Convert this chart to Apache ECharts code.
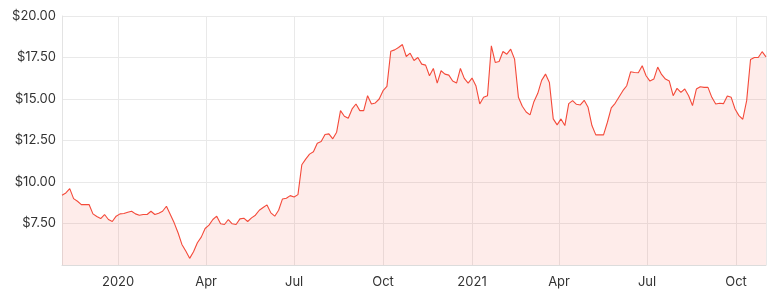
<!DOCTYPE html>
<html>
<head>
<meta charset="utf-8">
<script src="https://cdn.jsdelivr.net/npm/echarts@6/dist/echarts.min.js"></script>
<style>
html,body{margin:0;padding:0;background:#fff;}
#chart{width:776px;height:301px;}
</style>
</head>
<body>
<div id="chart"></div>
<script>
// Series sampled every 4 calendar days starting 2019-11-04
var START_DATE = [2019, 10, 4];
var STEP_DAYS = 4;
var prices = [
  9.20, 9.34, 9.60, 9.00, 8.84, 8.64, 8.64, 8.64, 8.08, 7.92, 7.80, 8.04, 7.74, 7.62, 7.94, 8.08, 8.10, 8.18, 8.24, 8.08, 8.00, 8.04, 8.04,
  8.24, 8.04, 8.12, 8.24, 8.54, 8.04, 7.54, 6.94, 6.24, 5.84, 5.40, 5.80, 6.34, 6.68, 7.20, 7.40, 7.74, 7.94, 7.48, 7.44, 7.74, 7.48, 7.44,
  7.78, 7.82, 7.62, 7.84, 8.00, 8.30, 8.46, 8.62, 8.14, 7.94, 8.30, 8.98, 9.02, 9.18, 9.10, 9.24, 11.04, 11.38, 11.68, 11.82, 12.34, 12.44, 12.86,
  12.90, 12.60, 13.00, 14.30, 13.96, 13.84, 14.40, 14.70, 14.30, 14.30, 15.20, 14.70, 14.76, 15.00, 15.50, 15.76, 17.88, 17.96, 18.10, 18.28, 17.56, 17.76,
  17.32, 17.50, 17.10, 17.04, 16.40, 16.84, 15.96, 16.70, 16.50, 16.44, 16.08, 15.96, 16.84, 16.24, 15.96, 16.26, 15.80, 14.70, 15.10, 15.20, 18.20, 17.20, 17.26,
  17.86, 17.70, 18.00, 17.40, 15.10, 14.56, 14.22, 14.04, 14.84, 15.34, 16.12, 16.50, 16.00, 13.80, 13.44, 13.80, 13.40, 14.72, 14.90, 14.68, 14.64, 14.92, 14.50,
  13.40, 12.84, 12.84, 12.84, 13.60, 14.46, 14.74, 15.12, 15.50, 15.80, 16.64, 16.60, 16.58, 17.00, 16.40, 16.08, 16.20, 16.92, 16.48, 16.20, 16.08, 15.20, 15.64,
  15.40, 15.60, 15.20, 14.60, 15.60, 15.74, 15.70, 15.70, 15.10, 14.70, 14.74, 14.72, 15.18, 15.10, 14.40, 14.00, 13.78, 14.90, 17.38, 17.50, 17.50, 17.85, 17.54
];
var monthNames = ['Jan','Feb','Mar','Apr','May','Jun','Jul','Aug','Sep','Oct','Nov','Dec'];
var yMin = 5, yMax = 20, yStep = 2.5;

var dates = prices.map(function (p, i) {
  return new Date(START_DATE[0], START_DATE[1], START_DATE[2] + STEP_DAYS * i).getTime();
});
var seriesData = prices.map(function (p, i) { return [dates[i], p]; });

var FONT = 'Inter';
var chart = echarts.init(document.getElementById('chart'), null, {renderer: 'canvas'});
chart.setOption({
  animation: false,
  grid: {left: 62, right: 10, top: 16, bottom: 36, containLabel: false},
  xAxis: {
    type: 'time',
    min: dates[0],
    max: dates[dates.length - 1],
    splitNumber: 7,
    axisLine: {show: true, lineStyle: {color: '#dcdcdc', width: 1}},
    axisTick: {show: false},
    splitLine: {show: true, lineStyle: {color: '#e9e9e9', width: 1}},
    axisLabel: {
      color: '#333', fontSize: 13, fontFamily: FONT, margin: 11,
      showMinLabel: false, showMaxLabel: false,
      formatter: function (v) {
        var d = new Date(v);
        return d.getMonth() === 0 ? String(d.getFullYear()) : monthNames[d.getMonth()];
      }
    }
  },
  yAxis: {
    type: 'value',
    min: yMin, max: yMax, interval: yStep,
    axisLine: {show: true, lineStyle: {color: '#e3e3e3', width: 1}},
    axisTick: {show: false},
    splitLine: {show: true, lineStyle: {color: '#e9e9e9', width: 1}},
    axisLabel: {
      color: '#333', fontSize: 13, fontFamily: FONT, margin: 6,
      showMinLabel: false,
      formatter: function (v) { return '$' + v.toFixed(2); }
    }
  },
  series: [{
    type: 'line',
    data: seriesData,
    showSymbol: false,
    symbol: 'none',
    lineStyle: {color: '#f44a3a', width: 1.1},
    areaStyle: {color: 'rgba(244,74,58,0.15)'}
  }]
});
</script>
</body>
</html>
